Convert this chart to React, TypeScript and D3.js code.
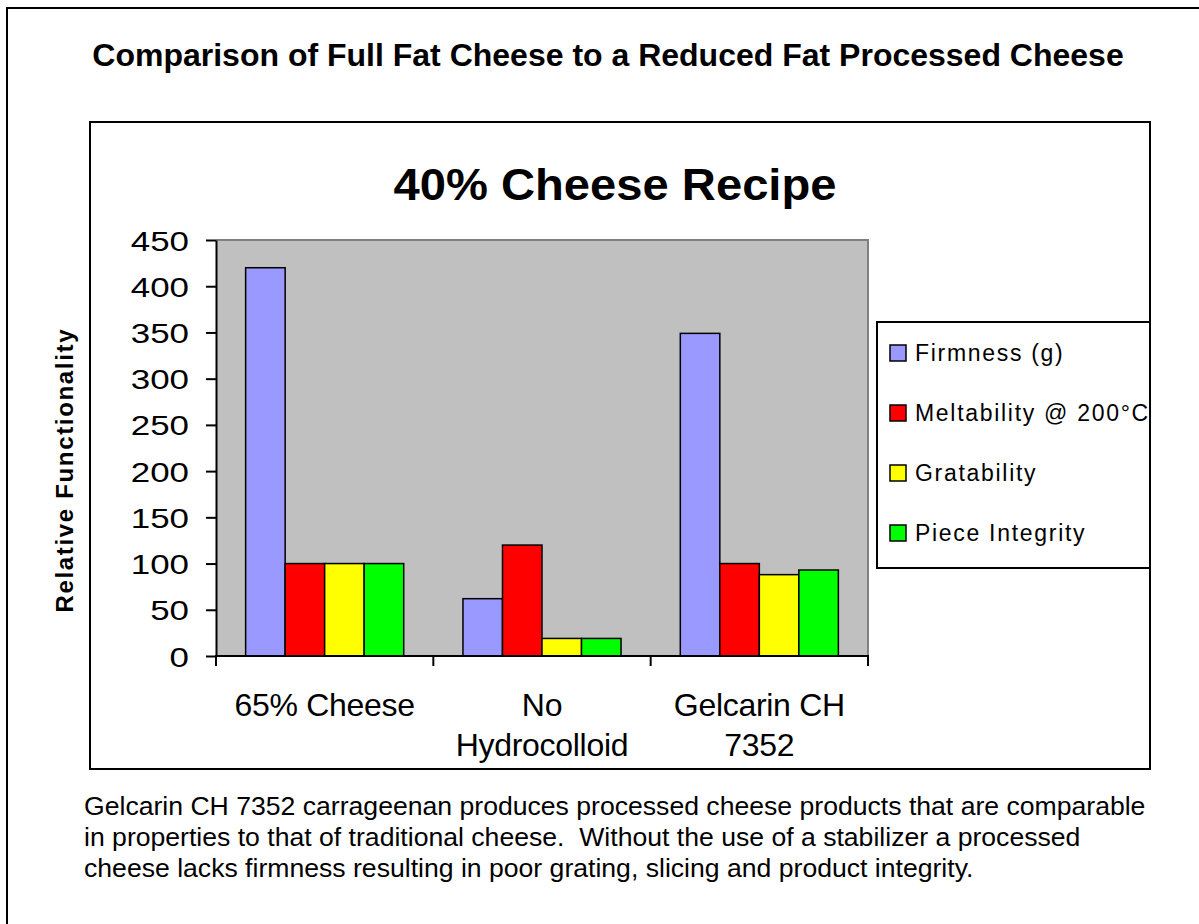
import React, { useRef, useEffect } from 'react';
import * as d3 from 'd3';

const categories = [['65% Cheese'], ['No', 'Hydrocolloid'], ['Gelcarin CH', '7352']];
const seriesNames = ['Firmness (g)', 'Meltability @ 200°C', 'Gratability', 'Piece Integrity'];
const seriesColors = ['#9999ff', '#ff0000', '#ffff00', '#00ff00'];
const firmness = [420, 62, 349];
const meltability = [100, 120, 100];
const gratability = [100, 19, 88];
const pieceIntegrity = [100, 19, 93];
const yTicks = [0, 50, 100, 150, 200, 250, 300, 350, 400, 450];
const footerLines = [
  'Gelcarin CH 7352 carrageenan produces processed cheese products that are comparable',
  'in properties to that of traditional cheese.  Without the use of a stabilizer a processed',
  'cheese lacks firmness resulting in poor grating, slicing and product integrity.',
];

const FONT = '"Liberation Sans", Arial, sans-serif';

const App = () => {
  const svgRef = useRef<SVGSVGElement>(null);

  useEffect(() => {
    const width = 1199;
    const height = 924;
    const plot = { left: 216, right: 868, top: 240, bottom: 656 };
    const series = [firmness, meltability, gratability, pieceIntegrity];

    const svg = d3.select(svgRef.current)
      .attr('width', width)
      .attr('height', height)
      .style('background', 'white');
    svg.selectAll('*').remove();

    // outer frame (only left + top edges fall inside the picture)
    svg.append('path')
      .attr('d', `M7,${height + 5} L7,8 L${width + 5},8`)
      .attr('fill', 'none')
      .attr('stroke', 'black')
      .attr('stroke-width', 2);

    svg.append('text')
      .attr('x', 608)
      .attr('y', 66)
      .attr('text-anchor', 'middle')
      .attr('font-family', FONT)
      .attr('font-weight', 'bold')
      .style('font-size', '32px')
      .text('Comparison of Full Fat Cheese to a Reduced Fat Processed Cheese');

    // chart frame
    svg.append('rect')
      .attr('x', 90)
      .attr('y', 122)
      .attr('width', 1060)
      .attr('height', 647)
      .attr('fill', 'white')
      .attr('stroke', 'black')
      .attr('stroke-width', 2);

    svg.append('text')
      .attr('x', 615)
      .attr('y', 200)
      .attr('text-anchor', 'middle')
      .attr('font-family', FONT)
      .attr('font-weight', 'bold')
      .attr('textLength', 443)
      .attr('lengthAdjust', 'spacingAndGlyphs')
      .style('font-size', '45px')
      .text('40% Cheese Recipe');

    const x0 = d3.scaleBand<number>()
      .domain(d3.range(categories.length))
      .range([plot.left, plot.right])
      .paddingInner(0)
      .paddingOuter(0);
    const groupWidth = x0.bandwidth() * 4 / 5.5;
    const x1 = d3.scaleBand<number>()
      .domain(d3.range(series.length))
      .range([0, groupWidth]);
    const y = d3.scaleLinear().domain([0, 450]).range([plot.bottom, plot.top]);

    // plot background
    svg.append('rect')
      .attr('x', plot.left)
      .attr('y', plot.top)
      .attr('width', plot.right - plot.left)
      .attr('height', plot.bottom - plot.top)
      .attr('fill', '#c0c0c0');
    svg.append('path')
      .attr('d', `M${plot.left},${plot.top} L${plot.right},${plot.top} L${plot.right},${plot.bottom}`)
      .attr('fill', 'none')
      .attr('stroke', '#808080')
      .attr('stroke-width', 2);

    // bars
    categories.forEach((_, ci) => {
      const gx = x0(ci)! + (x0.bandwidth() - groupWidth) / 2;
      series.forEach((vals, si) => {
        svg.append('rect')
          .attr('x', gx + x1(si)!)
          .attr('y', y(vals[ci]))
          .attr('width', x1.bandwidth())
          .attr('height', y(0) - y(vals[ci]))
          .attr('fill', seriesColors[si])
          .attr('stroke', 'black')
          .attr('stroke-width', 1.5);
      });
    });

    // y axis
    const yAxis = d3.axisLeft(y).tickValues(yTicks).tickSize(10).tickSizeOuter(0).tickPadding(17);
    const yg = svg.append('g')
      .attr('transform', `translate(${plot.left},0)`)
      .call(yAxis);
    yg.select('.domain').attr('stroke', 'black').attr('stroke-width', 2);
    yg.selectAll('.tick line').attr('stroke', 'black').attr('stroke-width', 2);
    yg.selectAll<SVGTextElement, number>('text')
      .attr('fill', 'black')
      .attr('font-family', FONT)
      .attr('dy', '0.36em')
      .attr('textLength', d => String(d).length * 19.4)
      .attr('lengthAdjust', 'spacingAndGlyphs')
      .style('font-size', '28px');

    // x axis
    const bounds = [0, 1, 2, 3].map(i => plot.left + i * x0.bandwidth());
    svg.append('line')
      .attr('x1', plot.left - 1)
      .attr('x2', plot.right + 1)
      .attr('y1', plot.bottom)
      .attr('y2', plot.bottom)
      .attr('stroke', 'black')
      .attr('stroke-width', 2);
    bounds.forEach(bx => {
      svg.append('line')
        .attr('x1', bx)
        .attr('x2', bx)
        .attr('y1', plot.bottom)
        .attr('y2', plot.bottom + 10)
        .attr('stroke', 'black')
        .attr('stroke-width', 2);
    });
    categories.forEach((lines, ci) => {
      const cx = x0(ci)! + x0.bandwidth() / 2;
      const t = svg.append('text')
        .attr('x', cx)
        .attr('y', 716)
        .attr('text-anchor', 'middle')
        .attr('font-family', FONT)
        .style('font-size', '32px')
        .style('letter-spacing', '-0.3px');
      lines.forEach((ln, li) => {
        t.append('tspan')
          .attr('x', cx)
          .attr('dy', li === 0 ? 0 : 40)
          .text(ln);
      });
    });

    svg.append('text')
      .attr('transform', `translate(73,471) rotate(-90)`)
      .attr('text-anchor', 'middle')
      .attr('font-family', FONT)
      .attr('font-weight', 'bold')
      .attr('textLength', 283)
      .attr('lengthAdjust', 'spacing')
      .style('font-size', '24px')
      .text('Relative Functionality');

    // legend
    svg.append('rect')
      .attr('x', 877)
      .attr('y', 322)
      .attr('width', 273)
      .attr('height', 246)
      .attr('fill', 'white')
      .attr('stroke', 'black')
      .attr('stroke-width', 2);
    seriesNames.forEach((name, i) => {
      const cy = 353 + i * 60;
      svg.append('rect')
        .attr('x', 890)
        .attr('y', cy - 8)
        .attr('width', 16)
        .attr('height', 16)
        .attr('fill', seriesColors[i])
        .attr('stroke', 'black')
        .attr('stroke-width', 1.5);
      svg.append('text')
        .attr('x', 915)
        .attr('y', cy + 8)
        .attr('font-family', FONT)
        .style('font-size', '23px')
        .style('letter-spacing', '1.7px')
        .text(name);
    });

    // footer
    footerLines.forEach((ln, i) => {
      svg.append('text')
        .attr('x', 84)
        .attr('y', 815 + i * 31)
        .attr('font-family', FONT)
        .style('font-size', '26.6px')
        .style('white-space', 'pre')
        .text(ln);
    });
  }, []);

  return (
    <svg ref={svgRef} style={{ position: 'absolute', left: 0, top: 0, display: 'block' }}></svg>
  );
};

export default App;
